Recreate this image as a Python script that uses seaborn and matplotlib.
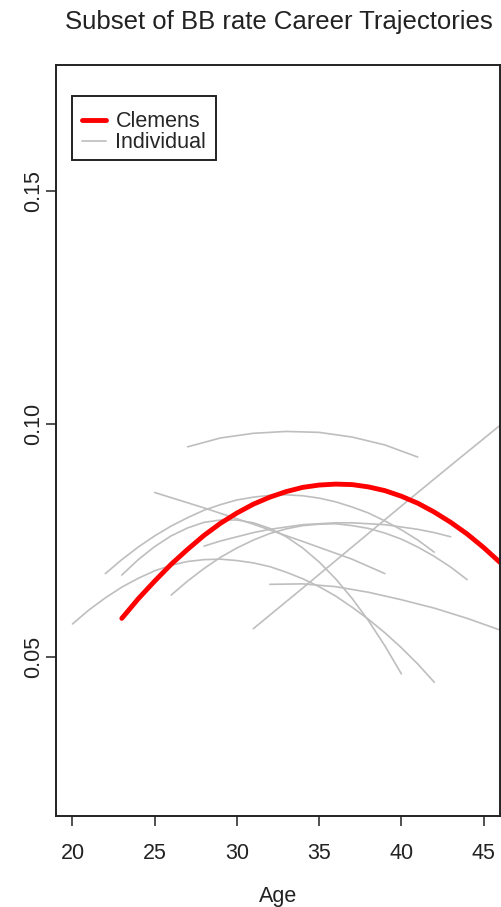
import matplotlib
matplotlib.use("Agg")
import matplotlib.pyplot as plt
import pandas as pd
import seaborn as sns
from matplotlib.lines import Line2D
from matplotlib.patches import Rectangle

# Clemens' fitted BB rate curve (red)
clemens_age = list(range(23, 47))
clemens_bb = [0.0583, 0.0625, 0.0663, 0.0699, 0.0731, 0.0761, 0.0787, 0.0809,
              0.0828, 0.0843, 0.0855, 0.0864, 0.0869, 0.0871, 0.0870, 0.0865,
              0.0857, 0.0845, 0.0830, 0.0811, 0.0789, 0.0764, 0.0735, 0.0703]

# individual pitchers (gray)
p1_age = [27, 29, 31, 33, 35, 37, 39, 41]
p1_bb = [0.0951, 0.0970, 0.0980, 0.0984, 0.0982, 0.0972, 0.0955, 0.0929]

p2_age = [31, 34, 37, 40, 43, 46]
p2_bb = [0.0561, 0.0648, 0.0736, 0.0824, 0.0911, 0.0997]

p3_age = [32, 34, 36, 38, 40, 42, 44, 46]
p3_bb = [0.0656, 0.0657, 0.0651, 0.0639, 0.0623, 0.0605, 0.0583, 0.0558]

p4_age = list(range(20, 43))
p4_bb = [0.0571, 0.0601, 0.0627, 0.0650, 0.0669, 0.0685, 0.0697, 0.0705,
         0.0709, 0.0710, 0.0707, 0.0702, 0.0694, 0.0682, 0.0668, 0.0651,
         0.0631, 0.0607, 0.0581, 0.0552, 0.0520, 0.0485, 0.0446]

p5_age = list(range(22, 43))
p5_bb = [0.0679, 0.0709, 0.0736, 0.0760, 0.0781, 0.0799, 0.0815, 0.0827,
         0.0837, 0.0843, 0.0847, 0.0848, 0.0846, 0.0841, 0.0833, 0.0822,
         0.0809, 0.0792, 0.0773, 0.0751, 0.0725]

p6_age = list(range(26, 45))
p6_bb = [0.0633, 0.0663, 0.0690, 0.0714, 0.0734, 0.0751, 0.0765, 0.0775,
         0.0782, 0.0785, 0.0786, 0.0782, 0.0776, 0.0766, 0.0753, 0.0736,
         0.0716, 0.0693, 0.0666]

p7_age = list(range(28, 44))
p7_bb = [0.0738, 0.0749, 0.0758, 0.0767, 0.0774, 0.0779, 0.0784, 0.0786,
         0.0788, 0.0788, 0.0786, 0.0784, 0.0779, 0.0774, 0.0767, 0.0758]

p8_age = [25, 28, 31, 34, 37, 39]
p8_bb = [0.0853, 0.0820, 0.0785, 0.0748, 0.0710, 0.0679]

p9_age = list(range(23, 41))
p9_bb = [0.0676, 0.0709, 0.0737, 0.0760, 0.0777, 0.0789, 0.0794, 0.0794,
         0.0788, 0.0776, 0.0758, 0.0734, 0.0704, 0.0668, 0.0626, 0.0578,
         0.0524, 0.0464]

players = {
    "p1": (p1_age, p1_bb), "p2": (p2_age, p2_bb), "p3": (p3_age, p3_bb),
    "p4": (p4_age, p4_bb), "p5": (p5_age, p5_bb), "p6": (p6_age, p6_bb),
    "p7": (p7_age, p7_bb), "p8": (p8_age, p8_bb), "p9": (p9_age, p9_bb),
}

rows = []
for name, (ages, vals) in players.items():
    for a, v in zip(ages, vals):
        rows.append({"player": name, "age": a, "bb": v})
indiv = pd.DataFrame(rows)
clem = pd.DataFrame({"age": clemens_age, "bb": clemens_bb})

sns.set_style("ticks")
plt.rcParams["font.family"] = ["Liberation Sans", "DejaVu Sans"]

fig = plt.figure(figsize=(5.02, 9.07), dpi=100)
ax = fig.add_axes([0.1116, 0.1003, 0.8845, 0.8280])

sns.lineplot(data=indiv, x="age", y="bb", units="player", estimator=None,
             color="#bebebe", linewidth=1.2, ax=ax, legend=False)
sns.lineplot(data=clem, x="age", y="bb", color="#ff0000", linewidth=3.5,
             ax=ax, legend=False, solid_capstyle="round")

ax.set_xlim(19, 46)
ax.set_ylim(0.0159, 0.1770)
ax.set_xticks([20, 25, 30, 35, 40, 45])
ax.set_yticks([0.05, 0.10, 0.15])
ax.set_yticklabels(["0.05", "0.10", "0.15"], rotation=90, va="center")
ax.tick_params(axis="both", labelsize=15.5, length=7.2, width=1.1,
               color="#222222", labelcolor="#222222")
ax.tick_params(axis="x", pad=12)
ax.tick_params(axis="y", pad=1.2)
for s in ax.spines.values():
    s.set_visible(True)
    s.set_linewidth(1.4)
    s.set_color("#222222")

ax.set_xlabel("Age", fontsize=15.5, labelpad=16, color="#222222")
ax.set_ylabel("")
fig.suptitle("Subset of BB rate Career Trajectories", x=0.556, y=0.9885,
             va="top", fontsize=18.5, color="#222222")

# legend box drawn R-style
ax.add_patch(Rectangle((0.0354, 0.8735), 0.325, 0.0852, transform=ax.transAxes,
                       fill=False, edgecolor="#222222", linewidth=1.4, zorder=5))
handles = [Line2D([], [], color="#ff0000", lw=3.5),
           Line2D([], [], color="#bebebe", lw=1.2)]
leg = ax.legend(handles, ["Clemens", "Individual"], loc="upper left",
                bbox_to_anchor=(0.0354, 0.9521), borderaxespad=0,
                fontsize=15.5, frameon=False,
                handlelength=1.1, handletextpad=0.45, labelspacing=0.0,
                borderpad=0.48)

fig.savefig("out.png", dpi=100)
